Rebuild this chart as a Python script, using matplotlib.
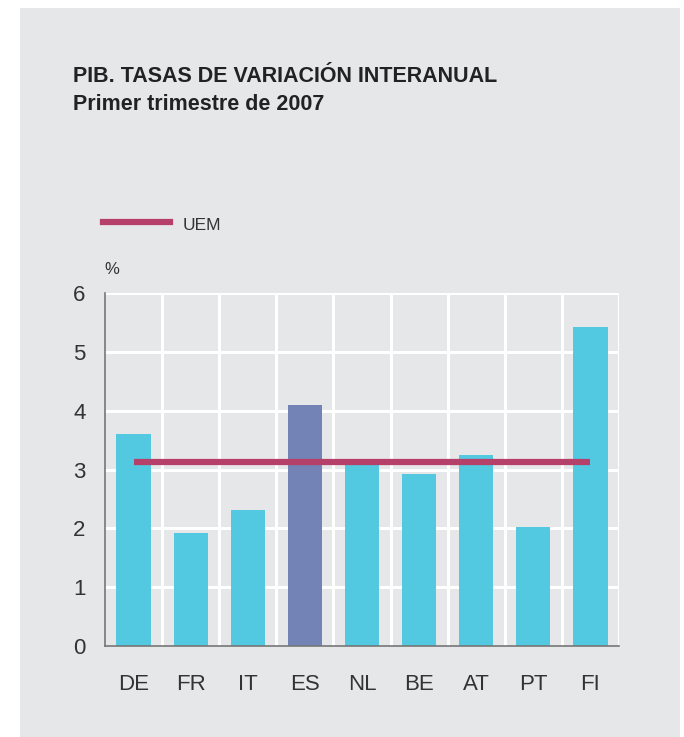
import matplotlib.pyplot as plt
from matplotlib.patches import Rectangle

paises = ['DE', 'FR', 'IT', 'ES', 'NL', 'BE', 'AT', 'PT', 'FI']
pib = [3.6, 1.92, 2.32, 4.1, 3.12, 2.93, 3.25, 2.02, 5.43]
uem = 3.13

plt.rcParams['font.family'] = ['Liberation Sans', 'DejaVu Sans']

W, H = 684, 737
fig = plt.figure(figsize=(W / 100, H / 100), dpi=100)
fig.patch.set_facecolor('white')
fig.patches.append(Rectangle((20 / W, 0), 660 / W, (H - 8) / H,
                             transform=fig.transFigure, facecolor='#e6e7e9',
                             edgecolor='none', zorder=-10))

ax = fig.add_axes([105 / W, 1 - 646 / H, 514 / W, 353 / H])
ax.set_facecolor('#e6e7e9')

x = range(len(paises))
colores = ['#7383b5' if p == 'ES' else '#53c8e1' for p in paises]
ax.bar(x, pib, width=0.6, color=colores, zorder=2)
ax.plot([0, len(paises) - 1], [uem, uem], color='#b5406a', lw=4.5,
        solid_capstyle='butt', zorder=3)

ax.set_xlim(-0.5, len(paises) - 0.5)
ax.set_ylim(0, 6)
ax.set_yticks(range(7))
ax.set_xticks(list(x))
ax.set_xticklabels(paises)
ax.tick_params(length=0, labelsize=15, colors='#333333')
ax.tick_params(axis='x', pad=20, labelsize=16)
ax.tick_params(axis='y', pad=14, labelsize=16)

for v in [i + 0.5 for i in range(len(paises))]:
    ax.axvline(v, color='white', lw=2.2, zorder=1)
for v in range(1, 7):
    ax.axhline(v, color='white', lw=2.2, zorder=1)

for s in ['top', 'right']:
    ax.spines[s].set_visible(False)
ax.spines['left'].set_color('#777777')
ax.spines['bottom'].set_color('#777777')
ax.spines['left'].set_linewidth(1.2)
ax.spines['bottom'].set_linewidth(1.2)

fig.text(73 / W, 1 - 76 / H, 'PIB. TASAS DE VARIACIÓN INTERANUAL',
         fontsize=15.5, fontweight='bold', color='#222222', va='center')
fig.text(73 / W, 1 - 105 / H, 'Primer trimestre de 2007',
         fontsize=15.5, fontweight='bold', color='#222222', va='center')

fig.add_artist(plt.Line2D([103 / W, 170 / W], [1 - 222 / H, 1 - 222 / H],
                          color='#b5406a', lw=4.5, transform=fig.transFigure))
fig.text(183 / W, 1 - 225 / H, 'UEM', fontsize=12.5, color='#333333', va='center')
fig.text(104 / W, 1 - 270 / H, '%', fontsize=12, color='#333333', va='center')

fig.savefig('out.png', dpi=100)
